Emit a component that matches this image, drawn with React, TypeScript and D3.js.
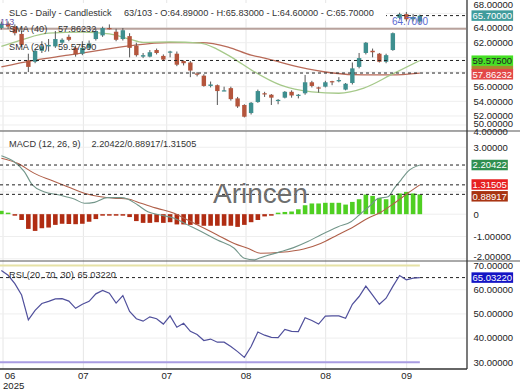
import React from "react";
import * as d3 from "d3";

// ---------- DATA ----------
const opens = [64.0, 64.6, 64.2, 63.2, 59.6, 59.4, 60.9, 61.5, 61.5, 62.0, 62.8, 61.3, 60.5, 61.3, 62.5, 63.0, 64.0, 63.5, 62.5, 62.9, 61.6, 60.1, 60.1, 61.0, 60.2, 60.75, 60.5, 59.5, 59.3, 57.8, 57.5, 56.1, 56.2, 55.5, 55.8, 54.4, 53.5, 52.4, 53.9, 55.1, 54.9, 54.2, 54.5, 55.3, 54.8, 55.1, 56.6, 55.9, 56.0, 56.75, 56.8, 55.6, 56.5, 58.7, 60.6, 60.9, 60.5, 59.4, 61.0, 65.4, 65.9, 65.2, 64.89];
const highs = [64.9, 64.9, 64.5, 63.6, 60.5, 61.1, 62.2, 62.5, 63.6, 62.6, 63.1, 61.6, 62.2, 62.3, 63.9, 64.2, 64.5, 63.9, 64.0, 63.3, 62.0, 60.6, 61.0, 61.2, 60.4, 60.9, 60.8, 59.6, 59.5, 58.0, 57.7, 56.7, 56.3, 56.0, 56.0, 54.6, 53.6, 53.9, 55.6, 55.3, 55.0, 54.3, 55.4, 55.5, 55.0, 57.6, 56.8, 56.0, 56.8, 56.8, 57.3, 56.5, 59.3, 60.6, 62.1, 61.2, 60.6, 60.5, 63.4, 66.1, 66.2, 65.9, 65.83];
const lows = [63.8, 63.9, 63.0, 61.4, 58.0, 59.2, 60.6, 60.8, 61.3, 61.8, 62.2, 60.1, 60.3, 61.0, 62.3, 62.8, 63.8, 62.2, 62.3, 60.0, 60.1, 59.9, 60.0, 60.4, 59.5, 60.0, 58.8, 58.9, 57.3, 57.4, 56.0, 55.9, 53.5, 55.4, 54.1, 53.1, 51.8, 52.2, 53.8, 54.6, 53.5, 53.6, 54.4, 54.5, 54.4, 54.9, 55.9, 55.2, 55.9, 56.2, 56.6, 55.5, 56.3, 58.5, 60.4, 60.0, 59.3, 59.2, 60.9, 65.2, 64.9, 64.9, 64.6];
const closes = [64.6, 64.2, 63.3, 61.7, 58.7, 60.9, 61.5, 61.7, 62.5, 62.4, 62.4, 60.4, 61.3, 61.9, 63.6, 64.0, 63.9, 62.4, 63.7, 61.3, 60.3, 60.3, 60.7, 60.6, 59.7, 60.8, 59.0, 59.2, 58.2, 57.7, 56.1, 56.3, 55.4, 55.5, 54.3, 53.3, 51.9, 53.8, 55.4, 55.0, 54.5, 54.2, 55.3, 54.8, 54.9, 56.6, 56.1, 55.8, 56.6, 56.7, 56.9, 56.4, 58.5, 59.9, 62.0, 60.7, 59.4, 60.3, 63.3, 65.9, 65.2, 65.5, 65.7];

const sma20Idx = [0, 3, 7, 12, 16, 19, 21, 25, 29.5, 32, 34.5, 37, 41.4, 46, 50, 53.7, 57.7, 62];
const sma20Val = [61.5, 62.4, 63.3, 63.45, 63.2, 62.5, 62.05, 62.1, 61.95, 61.1, 59.8, 58.3, 56.2, 55.3, 55.1, 55.8, 57.6, 59.575];
const sma40Idx = [0, 4.8, 9.9, 14.7, 19.6, 24.7, 29.6, 33.6, 37, 39, 44, 48.8, 53.7, 57.7, 62];
const sma40Val = [58.7, 59.6, 60.3, 61.0, 61.65, 62.0, 62.0, 61.4, 60.3, 59.9, 58.7, 57.9, 57.6, 57.6, 57.86232];
const resistance = 63.9;

const macdIdx = [0, 1.9, 3.4, 4.6, 6.3, 8.6, 10.8, 12.3, 13.8, 15.7, 17.7, 18.7, 20.2, 21.7, 23.6, 25.6, 27.6, 29.6, 32, 34.5, 36, 37.5, 38.4, 41.4, 43.3, 45.4, 47.3, 49.9, 51.8, 53.3, 54.7, 55.8, 57.3, 58.2, 59.2, 60.2, 62];
const macdVal = [2.62, 2.35, 1.91, 1.31, 1.01, 0.86, 0.68, 0.49, 0.53, 0.74, 0.74, 0.68, 0.41, 0.11, -0.04, -0.18, -0.48, -0.78, -1.16, -1.53, -1.98, -2.05, -1.95, -1.68, -1.5, -1.23, -0.93, -0.56, -0.34, 0.04, 0.4, 0.7, 0.78, 1.16, 1.53, 1.91, 2.20422];
const signalIdx = [0, 2.4, 4.9, 7.3, 9.8, 12.3, 14.7, 17.2, 18.7, 20.7, 23.1, 25.6, 27.6, 29.6, 32, 34.5, 36.5, 38.4, 41.4, 44.8, 47.3, 49.8, 52.2, 54.3, 56.2, 58.2, 60.2, 62];
const signalVal = [2.51, 2.28, 1.83, 1.53, 1.23, 0.94, 0.78, 0.71, 0.68, 0.49, 0.26, 0.04, -0.26, -0.56, -0.93, -1.31, -1.53, -1.75, -1.71, -1.56, -1.31, -0.93, -0.56, -0.18, 0.09, 0.49, 0.94, 1.31505];
const histVal = [0.15, 0.02, -0.05, -0.26, -0.66, -0.75, -0.63, -0.60, -0.48, -0.43,
  -0.44, -0.45, -0.43, -0.34, -0.22, -0.05, -0.03, -0.03, -0.02, -0.13,
  -0.31, -0.39, -0.39, -0.36, -0.39, -0.36, -0.46, -0.46, -0.48, -0.46,
  -0.52, -0.52, -0.52, -0.52, -0.52, -0.57, -0.48, -0.36, -0.26, -0.10,
  -0.05, 0.02, 0.10, 0.12, 0.22, 0.40, 0.48, 0.48, 0.51, 0.51,
  0.51, 0.43, 0.55, 0.67, 0.88, 0.82, 0.73, 0.67, 0.85, 0.93,
  1.00, 0.93, 0.88917];

const rsiVal = [68.0, 66.0, 62.5, 57.8, 47.5, 51.5, 54.3, 55.2, 56.2, 56.3, 55.3, 52.3, 54.0, 55.2, 58.3, 59.7, 58.6, 54.5, 57.6, 51.0, 48.0, 47.0, 48.8, 48.0, 45.8, 49.2, 44.5, 46.1, 42.8, 41.5, 39.0, 39.6, 38.3, 38.3, 36.5, 34.4, 32.0, 36.5, 42.5, 41.2, 40.3, 40.2, 43.6, 42.8, 42.7, 48.4, 47.3, 45.8, 49.1, 49.2, 49.2, 48.2, 54.0, 57.2, 61.5, 57.8, 54.0, 56.5, 61.4, 65.9, 64.1, 64.8, 65.0322];

const priceTicks = [50, 52, 54, 56, 58, 60, 62, 64, 66, 68];
const macdTicks = [-2, -1, 0, 1, 2, 3, 4];
const rsiTicks = [30, 40, 50, 60, 70];
const dateTickIdx = [0.25, 12.15, 24.5, 36.25, 48.05, 60.05];
const dateTickLabels = ["06", "07", "07", "08", "08", "09"];
const yearLabel = "2025";

const titleLeft = "SLG - Daily - Candlestick";
const titleRight = "63/103 - O:64.89000 - H:65.83000 - L:64.60000 - C:65.70000";

// ---------- LAYOUT / STYLE ----------
const W = 520, H = 390;
const RIGHT = 466;
const FONT = "'Liberation Sans', Arial, sans-serif";
const UP = "#3e8f8f", DOWN = "#b4553c";
const LF = 9.2; // legend / title font size

const fmt5 = (v: number) => (v === 0 ? "0" : v.toFixed(5));
const textW = (s: string) => {
  let w = 0;
  for (const ch of s) w += ch === "." ? 2.64 : 5.28;
  return w;
};

export default function App() {
  const x = d3.scaleLinear().domain([-0.2, RIGHT / 6.75 - 0.2]).range([0, RIGHT]);
  const yP = d3.scaleLinear().domain([49.95, 67.83]).range([131, 0]);
  const yM = d3.scaleLinear().domain([-2.1, 3.73]).range([261, 131]);
  const yR = d3.scaleLinear().domain([27.2, 71.9]).range([369, 261]);

  const knotLine = (idx: number[], vals: number[], y: d3.ScaleLinear<number, number>) =>
    d3.line<number>().x((_, i) => x(idx[i])).y((v) => y(v)).curve(d3.curveMonotoneX)(vals) || "";

  const rsiPath = d3.line<number>().x((_, i) => x(i)).y((v) => yR(v))(rsiVal) || "";
  const last = closes.length - 1;
  const bw = 4.4;

  const clamp = (v: number, a: number, b: number) => Math.max(a, Math.min(b, v));

  const lastSma20 = sma20Val[sma20Val.length - 1];
  const lastSma40 = sma40Val[sma40Val.length - 1];
  const lastMacd = macdVal[macdVal.length - 1];
  const lastSignal = signalVal[signalVal.length - 1];
  const lastHist = histVal[histVal.length - 1];

  const priceBoxY = [yP(closes[last]), 60.7, 74.3];
  const macdBoxY = [yM(lastMacd), 184.5, 196.3];
  const rsiBoxY = [yR(rsiVal[last])];
  const free = (yy: number, boxes: number[]) => boxes.every((b) => Math.abs(b - yy) > 7.5);

  const dashed = (yy: number, key: string) => (
    <line key={key} x1={0} x2={RIGHT} y1={yy} y2={yy} stroke="#222" strokeWidth={1} strokeDasharray="3,3" />
  );

  const box = (label: string, cy: number, bg: string, fg: string, key: string, h = 10.5) => {
    const w = textW(label) + 2;
    return (
      <g key={key}>
        <rect x={471.5} y={cy - h / 2} width={w} height={h} fill={bg} />
        <text x={472.5} y={cy + 3.4} fontSize={9.5} fill={fg} fontFamily={FONT}>{label}</text>
      </g>
    );
  };

  return (
    <svg width={W} height={H} style={{ position: "absolute", left: 0, top: 0, display: "block", background: "#fff" }}>
      <rect x={0} y={0} width={W} height={H} fill="#fff" />
      {/* gridlines */}
      {dateTickIdx.map((t, i) => (
        <line key={"vg" + i} x1={x(t)} x2={x(t)} y1={0} y2={369} stroke="#e6e6e6" strokeWidth={1} />
      ))}
      {priceTicks.map((t) => (
        <line key={"pg" + t} x1={0} x2={RIGHT} y1={yP(t)} y2={yP(t)} stroke="#eeeeee" strokeWidth={1} />
      ))}
      {macdTicks.map((t) => (
        <line key={"mg" + t} x1={0} x2={RIGHT} y1={yM(t)} y2={yM(t)} stroke="#eeeeee" strokeWidth={1} />
      ))}
      {rsiTicks.slice(1, 4).map((t) => (
        <line key={"rg" + t} x1={0} x2={RIGHT} y1={yR(t)} y2={yR(t)} stroke="#eeeeee" strokeWidth={1} />
      ))}

      {/* ---------- price panel ---------- */}
      <line x1={0} x2={RIGHT} y1={yP(resistance)} y2={yP(resistance)} stroke="#b8a29c" strokeWidth={2} />
      <path d={knotLine(sma40Idx, sma40Val, yP)} fill="none" stroke="#b86a58" strokeWidth={1.3} />
      <path d={knotLine(sma20Idx, sma20Val, yP)} fill="none" stroke="#a6c98a" strokeWidth={1.3} />
      {closes.map((c, i) => {
        const o = opens[i];
        const up = c >= o;
        const col = up ? UP : DOWN;
        const top = yP(Math.max(o, c));
        const bot = yP(Math.min(o, c));
        return (
          <g key={"c" + i}>
            <line x1={x(i)} x2={x(i)} y1={yP(highs[i])} y2={yP(lows[i])} stroke="#555" strokeWidth={1} />
            <rect x={x(i) - bw / 2} y={top} width={bw} height={Math.max(1.2, bot - top)} fill={col} />
          </g>
        );
      })}
      {dashed(yP(closes[last]), "d1")}
      {dashed(yP(lastSma20), "d2")}
      {dashed(yP(lastSma40), "d3")}

      <rect x={0} y={3} width={386} height={16} fill="#fff" />
      <text x={9} y={16} fontSize={LF} fill="#333" fontFamily={FONT}>{titleLeft}</text>
      <text x={124} y={16} fontSize={LF} fill="#333" fontFamily={FONT}>{titleRight}</text>
      <text x={0} y={25} fontSize={9} fill="#6a5aa8" fontFamily={FONT}>113</text>
      <text x={392} y={25} fontSize={10} fill="#5a6ad0" fontFamily={FONT}>64.7000</text>
      <text x={9} y={32} fontSize={LF} fill="#333" fontFamily={FONT}>SMA (40)</text>
      <text x={58} y={32} fontSize={LF} fill="#333" fontFamily={FONT}>{fmt5(lastSma40)}</text>
      <text x={9} y={50} fontSize={LF} fill="#333" fontFamily={FONT}>SMA (20)</text>
      <text x={58} y={50} fontSize={LF} fill="#333" fontFamily={FONT}>{fmt5(lastSma20)}</text>

      {/* ---------- MACD panel ---------- */}
      {histVal.map((h, i) => {
        const y0 = yM(0);
        const y1 = yM(h);
        const hh = Math.max(1.5, Math.abs(y1 - y0));
        return (
          <rect key={"h" + i} x={x(i) - 2.3} width={4.6} y={h >= 0 ? y0 - hh : y0} height={hh}
            fill={h >= 0 ? "#4fcf22" : "#b02c12"} />
        );
      })}
      <path d={knotLine(signalIdx, signalVal, yM)} fill="none" stroke="#b0604a" strokeWidth={1.1} />
      <path d={knotLine(macdIdx, macdVal, yM)} fill="none" stroke="#73968a" strokeWidth={1.1} />
      {dashed(yM(lastMacd), "m1")}
      {dashed(yM(lastSignal), "m2")}
      {dashed(yM(lastHist), "m3")}
      <text x={213} y={203} fontSize={28} fill="#6e6e6e" fontFamily={FONT}>Arincen</text>
      <text x={9} y={146.5} fontSize={LF} fill="#333" fontFamily={FONT}>MACD (12, 26, 9)</text>
      <text x={91.5} y={146.5} fontSize={LF} fill="#333" fontFamily={FONT}>
        {fmt5(lastMacd) + "/" + fmt5(lastHist) + "/" + fmt5(lastSignal)}
      </text>

      {/* ---------- RSI panel ---------- */}
      <line x1={0} x2={x(last)} y1={yR(70)} y2={yR(70)} stroke="#e6e2a6" strokeWidth={2} />
      <line x1={0} x2={x(last)} y1={yR(30)} y2={yR(30)} stroke="#a99ce2" strokeWidth={2} />
      {dashed(yR(rsiVal[last]), "r1")}
      <path d={rsiPath} fill="none" stroke="#50509c" strokeWidth={1.2} />
      <text x={9} y={277.5} fontSize={LF} fill="#333" fontFamily={FONT}>RSI (20, 70, 30)</text>
      <text x={77.5} y={277.5} fontSize={LF} fill="#333" fontFamily={FONT}>{fmt5(rsiVal[last])}</text>

      {/* ---------- frames ---------- */}
      <line x1={0} x2={W} y1={131} y2={131} stroke="#555" strokeWidth={1} />
      <line x1={0} x2={W} y1={261} y2={261} stroke="#555" strokeWidth={1} />
      <line x1={0} x2={RIGHT + 1} y1={369} y2={369} stroke="#333" strokeWidth={1.3} />
      <line x1={RIGHT + 1} x2={RIGHT + 1} y1={0} y2={369} stroke="#333" strokeWidth={1.3} />

      {/* right axis labels */}
      {priceTicks.filter((t) => free(yP(t), priceBoxY)).map((t) => (
        <text key={"pl" + t} x={473.5} y={clamp(yP(t), 5, 123.5) + 3.4} fontSize={9.5} fill="#222" fontFamily={FONT}>{fmt5(t)}</text>
      ))}
      {macdTicks.filter((t) => free(yM(t), macdBoxY)).map((t) => (
        <text key={"ml" + t} x={473.5} y={clamp(yM(t), 132, 257) + 3.4} fontSize={9.5} fill="#222" fontFamily={FONT}>{fmt5(t)}</text>
      ))}
      {rsiTicks.filter((t) => free(yR(t), rsiBoxY)).map((t) => (
        <text key={"rl" + t} x={473.5} y={clamp(yR(t), 266, 365) + 3.4} fontSize={9.5} fill="#222" fontFamily={FONT}>{fmt5(t)}</text>
      ))}

      {box(fmt5(closes[last]), priceBoxY[0], "#3f9c9c", "#fff", "b1")}
      {box(fmt5(lastSma20), priceBoxY[1], "#45e024", "#222", "b2")}
      <rect x={471.5} y={65.8} width={textW("57.86232") + 2} height={4} fill="#a88a30" />
      {box(fmt5(lastSma40), priceBoxY[2], "#e34848", "#fff", "b3")}
      {box(fmt5(lastMacd), macdBoxY[0], "#2f8f4f", "#fff", "b4")}
      {box(fmt5(lastSignal), macdBoxY[1], "#e62020", "#fff", "b5")}
      {box(fmt5(lastHist), macdBoxY[2], "#a83412", "#fff", "b6")}
      {box(fmt5(rsiVal[last]), rsiBoxY[0], "#1414c4", "#fff", "b7")}

      {/* date axis */}
      {dateTickIdx.map((t, i) => (
        <text key={"dl" + i} x={Math.max(x(t), 10)} y={378.5} fontSize={9.6} fill="#222" textAnchor="middle" fontFamily={FONT}>
          {dateTickLabels[i]}
        </text>
      ))}
      <text x={3} y={388.5} fontSize={9.6} fill="#222" fontFamily={FONT}>{yearLabel}</text>
    </svg>
  );
}
